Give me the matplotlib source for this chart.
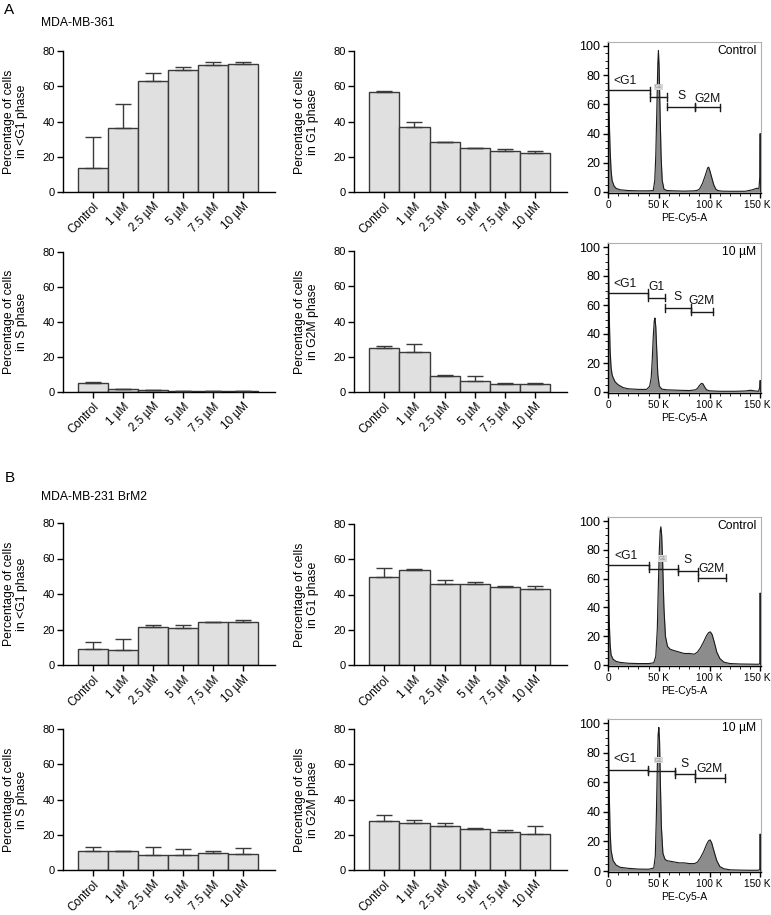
import matplotlib
matplotlib.use('Agg')
import matplotlib.pyplot as plt
import matplotlib.transforms as mtransforms
from matplotlib.ticker import MultipleLocator, FixedLocator
import numpy as np

plt.rcParams['font.family'] = ['Liberation Sans', 'DejaVu Sans']

# ---------------- data ----------------
categories = ['Control', '1 µM', '2.5 µM', '5 µM', '7.5 µM', '10 µM']

a_subg1 = [13.6, 36.5, 63.1, 69.4, 72.2, 72.8]
a_subg1_err = [17.6, 13.4, 4.6, 1.5, 1.5, 0.9]
a_g1 = [56.7, 37.1, 28.4, 25.0, 23.3, 22.3]
a_g1_err = [0.4, 2.6, 0.15, 0.1, 1.1, 1.0]
a_s = [4.9, 1.7, 0.9, 0.5, 0.5, 0.4]
a_s_err = [0.8, 0.2, 0.1, 0.1, 0.1, 0.1]
a_g2m = [24.8, 22.7, 8.9, 6.2, 4.5, 4.5]
a_g2m_err = [1.1, 4.7, 0.7, 2.9, 0.4, 0.6]

b_subg1 = [9.2, 8.3, 21.5, 20.9, 24.3, 24.3]
b_subg1_err = [3.6, 6.6, 0.9, 1.5, 0.2, 1.3]
b_g1 = [50.2, 53.8, 45.9, 45.7, 44.0, 43.4]
b_g1_err = [5.0, 0.4, 2.1, 1.3, 1.1, 1.5]
b_s = [10.8, 10.6, 8.7, 8.5, 9.9, 8.9]
b_s_err = [2.1, 0.4, 4.2, 3.4, 0.9, 3.6]
b_g2m = [27.9, 26.9, 25.2, 23.1, 21.8, 20.3]
b_g2m_err = [3.4, 1.5, 1.2, 0.8, 0.8, 4.5]

# histograms (x in K units of PE-Cy5-A, y in % of max)
ha_ctrl_x = [0, 0.5, 1, 2, 3, 4, 6, 8, 12, 20, 30, 40, 44.5, 46, 47, 48, 49, 49.6, 50.3,
             51.2, 52.2, 53.3, 55, 58, 65, 75, 85, 88, 90, 93, 96, 98, 99, 100, 102, 104,
             106, 108, 112, 120, 135, 142, 146, 148.5, 149.3, 149.7, 150.1]
ha_ctrl_y = [90, 80, 55, 30, 15, 8, 4, 2.5, 1.5, 1, 0.8, 0.8, 1, 8, 25, 55, 88, 97, 85,
             55, 25, 8, 2, 1, 0.8, 0.6, 0.8, 1.2, 2, 6, 12, 16.5, 17, 15, 10, 5,
             2, 1, 0.6, 0.5, 0.5, 1.5, 2.5, 2.5, 10, 40, 0]

ha_10_x = [0, 0.3, 1, 2, 3, 4, 5, 7, 10, 15, 20, 30, 38, 41, 42.5, 43.5, 44.5, 45.5, 46.2,
           47, 48, 49, 50.5, 53, 58, 70, 80, 86, 88, 90, 92, 93.5, 95, 97, 100, 110, 125,
           135, 140, 144, 148, 149.3, 149.7, 150.1]
ha_10_y = [100, 100, 60, 30, 17, 12, 10, 7, 5, 3, 2.2, 1.8, 1.8, 4, 10, 22, 38, 49, 51,
           45, 28, 12, 4, 2, 1.5, 1.2, 1, 1.5, 2.5, 4.5, 6, 5.5, 3.5, 1.5, 0.8, 0.5, 0.5,
           0.7, 1.2, 0.8, 0.5, 3, 8, 0]

hb_ctrl_x = [0, 0.4, 1, 2, 3, 5, 8, 12, 20, 30, 40, 45, 47, 48.5, 49.5, 50.5, 51.3, 52,
             52.8, 53.8, 55, 56.5, 58.5, 61, 65, 70, 75, 80, 85, 88, 91, 94, 97, 99, 100.7,
             102.5, 104.5, 107, 110, 114, 120, 130, 140, 148, 149.3, 149.7, 150.1]
hb_ctrl_y = [66, 60, 35, 15, 7, 4, 2.5, 1.8, 1.2, 1, 1, 1.5, 6, 25, 55, 80, 93, 96,
             90, 70, 40, 20, 13, 11, 10, 9, 8, 8, 7.5, 9, 12, 16, 20.5, 22.5, 23,
             21, 16, 9, 4.5, 2, 1, 0.7, 0.6, 0.5, 1, 50, 0]

hb_10_x = [0, 0.4, 1, 2, 3, 5, 8, 12, 20, 30, 40, 45, 46.5, 47.5, 48.5, 49.3, 50, 50.7,
           51.5, 52.5, 54, 56, 58, 62, 66, 70, 75, 80, 85, 88, 91, 94, 97, 99, 100.5, 102,
           104, 107, 110, 114, 120, 130, 140, 148, 149.3, 149.7, 150.1]
hb_10_y = [100, 95, 60, 28, 14, 7, 4, 2.5, 1.8, 1.3, 1.2, 2, 10, 35, 70, 92, 97, 88,
           60, 30, 12, 8, 7, 6.5, 6, 5.5, 5.5, 5, 5, 6, 9, 13, 18, 20.5, 21, 19,
           14, 7, 3, 1.5, 0.8, 0.6, 0.5, 0.5, 1, 25, 0]

# gates: (start, end, level)
ha_ctrl_gates = [(0, 41.4, 69.7), (41.4, 58, 65.1), (58, 86, 58.5), (86, 110, 58)]
ha_10_gates = [(0, 39, 68.6), (39, 56, 65), (56, 82, 58), (82, 103, 55.4)]
hb_ctrl_gates = [(0, 40, 69.3), (40, 69, 67), (69, 88.5, 65), (89, 116, 60.5)]
hb_10_gates = [(0, 39.7, 68.4), (39.7, 66, 67.3), (66, 86, 65.5), (86, 114.6, 62.8)]

# gate labels: (text, x, y, small)
ha_ctrl_labels = [('<G1', 17, 76, False), ('G1', 49.5, 72, True), ('S', 72, 65.5, False), ('G2M', 98, 64, False)]
ha_10_labels = [('<G1', 17, 74.5, False), ('G1', 47.5, 72.5, False), ('S', 68, 65.5, False), ('G2M', 92, 63, False)]
hb_ctrl_labels = [('<G1', 17.5, 75.5, False), ('G1', 53.5, 74, True), ('S', 78, 73, False), ('G2M', 102, 66.5, False)]
hb_10_labels = [('<G1', 17, 75.5, False), ('G1', 50, 75, True), ('S', 75, 72, False), ('G2M', 100, 69, False)]

# ---------------- figure ----------------
W, H = 771, 915
fig = plt.figure(figsize=(W / 100, H / 100), dpi=100)

FS_TICK = 8
FS_XT = 8.5
FS_LAB = 8.8
FS_TITLE = 8.7


def rect_px(x0, x1, y_a, y_b, v_a, v_b, lo, hi):
    """axes rect from pixel positions y_a (value v_a) and y_b (value v_b)."""
    per = (y_b - y_a) / (v_a - v_b)
    top = y_a - (hi - v_a) * per
    bot = y_b + (v_b - lo) * per
    return [x0 / W, 1 - bot / H, (x1 - x0) / W, (bot - top) / H]


def bar_panel(x0, x1, y80, y0, means, errs, ylabel):
    ax = fig.add_axes(rect_px(x0, x1, y80, y0, 80, 0, 0, 80))
    x = np.arange(len(categories))
    ax.bar(x, means, width=1.0, color='#e0e0e0', edgecolor='#3a3a3a', linewidth=1.0, zorder=2)
    ax.errorbar(x, means, yerr=[np.zeros(len(errs)), errs], fmt='none', ecolor='#3a3a3a',
                elinewidth=1.0, capsize=6, capthick=1.0, zorder=3)
    ax.set_xlim(-1.0, 6.05)
    ax.set_ylim(0, 80)
    ax.set_yticks([0, 20, 40, 60, 80])
    ax.set_xticks(x)
    ax.set_xticklabels(categories, rotation=45, ha='right', rotation_mode='anchor', fontsize=FS_XT)
    ax.tick_params(axis='both', direction='out', length=4, width=1.0, labelsize=FS_TICK, pad=2)
    ax.tick_params(axis='x', labelsize=FS_XT)
    for s in ['top', 'right']:
        ax.spines[s].set_visible(False)
    for s in ['left', 'bottom']:
        ax.spines[s].set_linewidth(1.0)
    ax.text(-0.223, 0.5, ylabel, transform=ax.transAxes, rotation=90, ha='center', va='center',
            fontsize=FS_LAB, linespacing=1.15)
    return ax


def hist_panel(y100, y0, hx, hy, gates, labels, tag):
    ax = fig.add_axes(rect_px(608, 761, y100, y0, 100, 0, -0.5, 103))
    ax.fill_between(hx, hy, 0, color='#8c8c8c', lw=0, zorder=1)
    ax.plot(hx, hy, color='#1a1a1a', lw=0.8, zorder=2)
    ax.set_xlim(0, 150.5)
    ax.set_ylim(-0.5, 103)
    for s in ['top', 'right']:
        ax.spines[s].set_color('#b0b0b0')
        ax.spines[s].set_linewidth(0.8)
    for s in ['left', 'bottom']:
        ax.spines[s].set_linewidth(1.0)
    ax.xaxis.set_major_locator(FixedLocator([0, 50, 100, 150]))
    ax.set_xticklabels(['0', '50 K', '100 K', '150 K'])
    ax.xaxis.set_minor_locator(MultipleLocator(10))
    ax.set_yticks([0, 20, 40, 60, 80, 100])
    ax.yaxis.set_minor_locator(MultipleLocator(5))
    ax.tick_params(axis='both', which='major', direction='out', length=3.5, width=1.0, pad=2)
    ax.tick_params(axis='y', which='major', labelsize=9)
    ax.tick_params(axis='x', which='major', labelsize=7.3)
    ax.tick_params(axis='both', which='minor', direction='out', length=2, width=0.6)
    lab150 = ax.get_xticklabels()[-1]
    lab150.set_transform(lab150.get_transform() +
                         mtransforms.ScaledTranslation(-3 / 100, 0, fig.dpi_scale_trans))
    ax.set_xlabel('PE-Cy5-A', fontsize=7.5, labelpad=2)
    capd = 2.5
    for (a, b, lv) in gates:
        ax.plot([a, b], [lv, lv], color='#1a1a1a', lw=1.0, zorder=4, clip_on=False)
        for e in (a, b):
            if e > 0:
                ax.plot([e, e], [lv - capd, lv + capd], color='#1a1a1a', lw=1.0, zorder=4)
    for (t, gx, gy, small) in labels:
        if small:
            ax.text(gx, gy, t, fontsize=4, color='#888888', ha='center', va='center', zorder=5,
                    bbox=dict(facecolor='#d8d8d8', edgecolor='none', pad=0.6))
        else:
            ax.text(gx, gy, t, fontsize=8.7, color='#111111', ha='center', va='center', zorder=5)
    ax.text(0.97, 0.975, tag, transform=ax.transAxes, ha='right', va='top', fontsize=8.7)
    return ax


# Panel A
fig.text(9 / W, 1 - 10 / H, 'A', fontsize=11, ha='center', va='center')
fig.text(41 / W, 1 - 23 / H, 'MDA-MB-361', fontsize=FS_TITLE, ha='left', va='center')
bar_panel(63, 275, 51, 192, a_subg1, a_subg1_err, 'Percentage of cells\nin <G1 phase')
bar_panel(354, 567, 51, 192, a_g1, a_g1_err, 'Percentage of cells\nin G1 phase')
hist_panel(46, 192, ha_ctrl_x, ha_ctrl_y, ha_ctrl_gates, ha_ctrl_labels, 'Control')
bar_panel(63, 275, 252, 392, a_s, a_s_err, 'Percentage of cells\nin S phase')
bar_panel(354, 567, 251, 392, a_g2m, a_g2m_err, 'Percentage of cells\nin G2M phase')
hist_panel(247, 392, ha_10_x, ha_10_y, ha_10_gates, ha_10_labels, '10 µM')

# Panel B
fig.text(10 / W, 1 - 478 / H, 'B', fontsize=11, ha='center', va='center')
fig.text(41 / W, 1 - 497 / H, 'MDA-MB-231 BrM2', fontsize=FS_TITLE, ha='left', va='center')
bar_panel(63, 275, 523, 665, b_subg1, b_subg1_err, 'Percentage of cells\nin <G1 phase')
bar_panel(354, 567, 524, 665, b_g1, b_g1_err, 'Percentage of cells\nin G1 phase')
hist_panel(521, 665, hb_ctrl_x, hb_ctrl_y, hb_ctrl_gates, hb_ctrl_labels, 'Control')
bar_panel(63, 275, 729, 870, b_s, b_s_err, 'Percentage of cells\nin S phase')
bar_panel(354, 567, 729, 870, b_g2m, b_g2m_err, 'Percentage of cells\nin G2M phase')
hist_panel(723, 871, hb_10_x, hb_10_y, hb_10_gates, hb_10_labels, '10 µM')

fig.savefig('out.png', dpi=100)
